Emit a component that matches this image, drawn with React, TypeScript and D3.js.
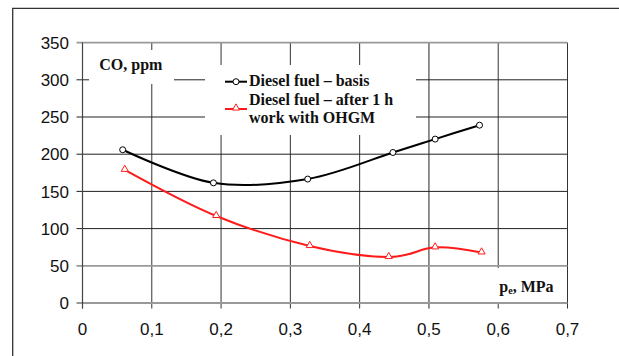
import React from "react";
import * as d3 from "d3";

const xTicks = [0, 0.1, 0.2, 0.3, 0.4, 0.5, 0.6, 0.7];
const xTickLabels = ["0", "0,1", "0,2", "0,3", "0,4", "0,5", "0,6", "0,7"];
const yTicks = [0, 50, 100, 150, 200, 250, 300, 350];

const basisX = [0.058, 0.189, 0.325, 0.448, 0.509, 0.573];
const basisY = [206, 161.5, 166.6, 202.3, 220.3, 239];
const ohgmX = [0.061, 0.193, 0.328, 0.442, 0.509, 0.576];
const ohgmY = [179, 117, 76.6, 61.8, 74.8, 68];

const seriesNames = ["Diesel fuel – basis", "Diesel fuel – after 1 h", "work with OHGM"];

export default function App() {
  const W = 619, H = 356;
  const x = d3.scaleLinear().domain([0, 0.7]).range([82.5, 567.5]);
  const y = d3.scaleLinear().domain([0, 350]).range([303, 42.6]);
  const line = d3
    .line<[number, number]>()
    .x((d) => x(d[0]))
    .y((d) => y(d[1]))
    .curve(d3.curveCardinal.tension(0));
  const basis: [number, number][] = basisX.map((v, i) => [v, basisY[i]]);
  const ohgm: [number, number][] = ohgmX.map((v, i) => [v, ohgmY[i]]);
  const tri = d3.symbol().type(d3.symbolTriangle).size(22);

  const serif = "'Liberation Serif', 'Times New Roman', serif";
  const sans = "'Liberation Sans', Arial, sans-serif";

  return (
    <svg width={W} height={H} style={{ position: "absolute", left: 0, top: 0, background: "#fff" }}>
      <rect x={0} y={0} width={W} height={H} fill="#fff" />
      {/* outer border */}
      <path d={`M12.7,${H} L12.7,8.3 L${W},8.3`} fill="none" stroke="#333" strokeWidth={1.3} />

      {/* vertical grid */}
      {xTicks.map((t, i) => (
        <line
          key={"vx" + i}
          x1={x(t)}
          x2={x(t)}
          y1={y(350)}
          y2={y(0) + 5.5}
          stroke={t === 0.5 ? "#555" : "#333"}
          strokeWidth={t === 0.5 ? 1.3 : 1}
        />
      ))}
      {/* horizontal grid */}
      {yTicks.map((t, i) => {
        const gray = t === 0 || t === 50 || t === 350;
        return (
          <line
            key={"hy" + i}
            x1={x(0) - 6}
            x2={x(0.7)}
            y1={y(t)}
            y2={y(t)}
            stroke={gray ? "#999" : "#222"}
            strokeWidth={gray ? 1.8 : 1}
          />
        );
      })}
      {/* left axis */}
      <line x1={x(0)} x2={x(0)} y1={y(350)} y2={y(0) + 5.5} stroke="#444" strokeWidth={1.2} />

      {/* white label boxes */}
      <rect x={89} y={50} width={85} height={34} fill="#fff" />
      <rect x={205} y={65} width={211} height={70} fill="#fff" />
      <rect x={470} y={268} width={90} height={34} fill="#fff" />

      {/* y tick labels */}
      {yTicks.map((t, i) => (
        <text
          key={"yl" + i}
          x={69}
          y={y(t)}
          dy="0.36em"
          textAnchor="end"
          fontFamily={sans}
          fontSize={17}
          fill="#111"
        >
          {t}
        </text>
      ))}
      {/* x tick labels */}
      {xTicks.map((t, i) => (
        <text
          key={"xl" + i}
          x={x(t)}
          y={335}
          textAnchor="middle"
          fontFamily={sans}
          fontSize={17}
          fill="#111"
        >
          {xTickLabels[i]}
        </text>
      ))}

      {/* axis titles */}
      <text x={99.3} y={70} fontFamily={serif} fontWeight="bold" fontSize={16} fill="#111">
        CO, ppm
      </text>
      <text x={499.3} y={291.7} fontFamily={serif} fontWeight="bold" fontSize={16} fill="#111">
        p<tspan fontSize={10} dy={2}>e</tspan>
        <tspan dy={-2}>, MPa</tspan>
      </text>

      {/* legend */}
      <line x1={225} x2={247} y1={81.7} y2={81.7} stroke="#000" strokeWidth={2} />
      <circle cx={236} cy={81.7} r={3} fill="#fff" stroke="#000" strokeWidth={1} />
      <text x={249} y={86} fontFamily={serif} fontWeight="bold" fontSize={16} fill="#111">
        {seriesNames[0]}
      </text>
      <line x1={225} x2={247} y1={109} y2={109} stroke="#ff1a1a" strokeWidth={2} />
      <path d={tri() || ""} transform="translate(236,108)" fill="#fff" stroke="#ff1a1a" strokeWidth={1} />
      <text x={249} y={105} fontFamily={serif} fontWeight="bold" fontSize={16} fill="#111">
        {seriesNames[1]}
      </text>
      <text x={249} y={122.7} fontFamily={serif} fontWeight="bold" fontSize={16} fill="#111">
        {seriesNames[2]}
      </text>

      {/* series */}
      <path d={line(basis) || ""} fill="none" stroke="#000" strokeWidth={2} />
      <path d={line(ohgm) || ""} fill="none" stroke="#ff1a1a" strokeWidth={2} />
      {basis.map((d, i) => (
        <circle key={"c" + i} cx={x(d[0])} cy={y(d[1])} r={3} fill="#fff" stroke="#000" strokeWidth={1} />
      ))}
      {ohgm.map((d, i) => (
        <path
          key={"t" + i}
          d={tri() || ""}
          transform={`translate(${x(d[0])},${y(d[1]) - 0.5})`}
          fill="#fff"
          stroke="#ff1a1a"
          strokeWidth={1}
        />
      ))}
    </svg>
  );
}
